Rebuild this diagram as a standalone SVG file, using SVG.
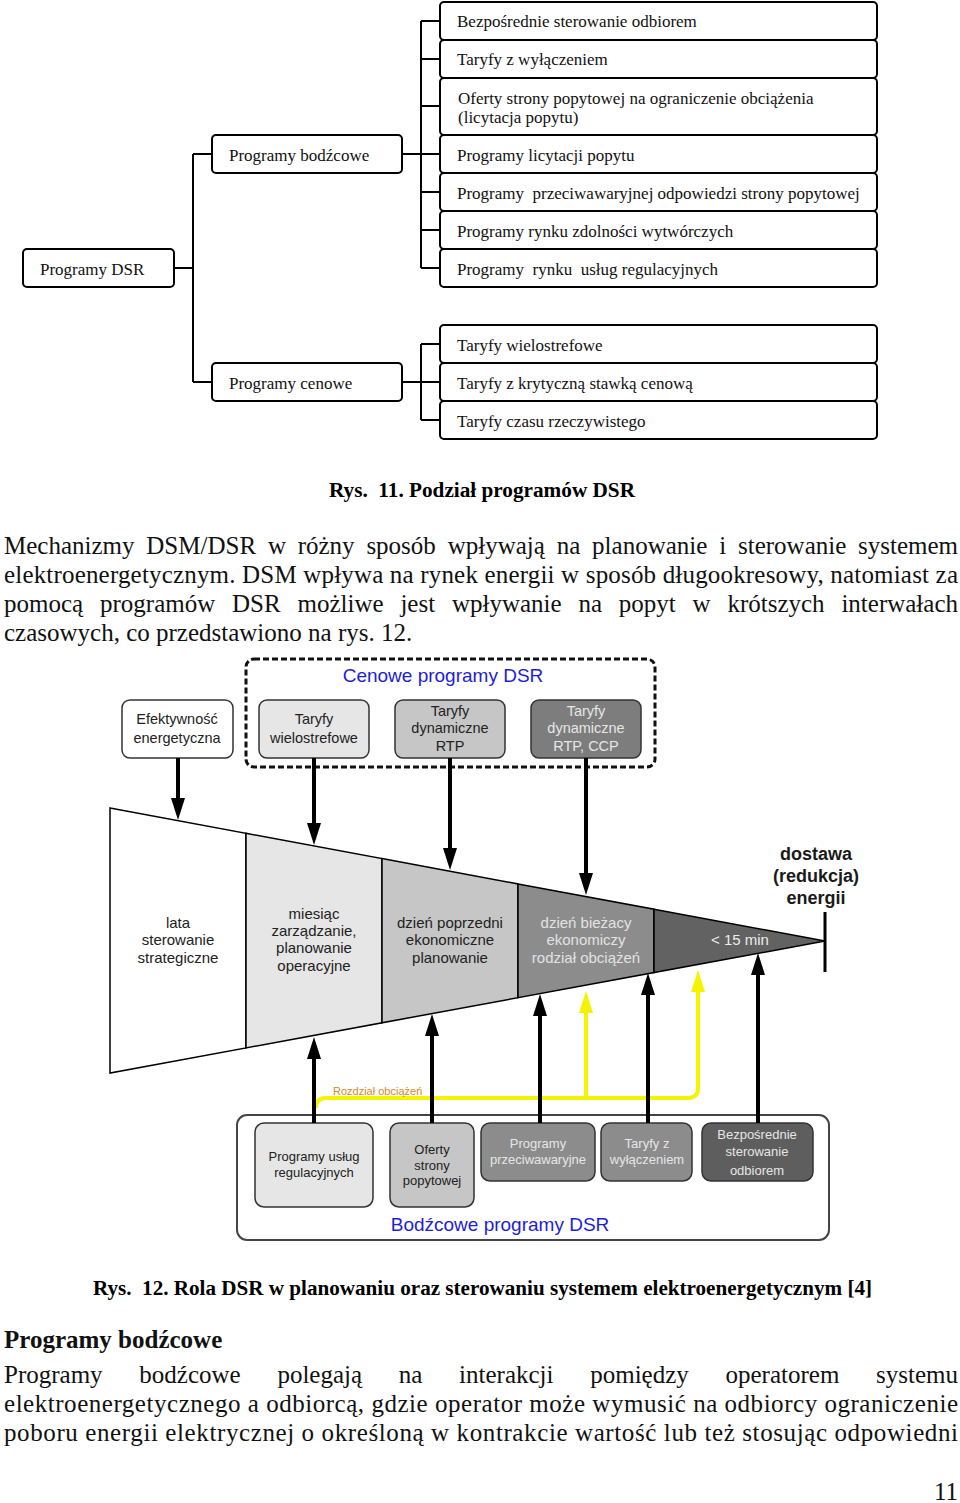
<svg xmlns="http://www.w3.org/2000/svg" width="960" height="1503" viewBox="0 0 960 1503">
<style>
.bg{fill:#fff}
.tb{fill:#fff;stroke:#000;stroke-width:2}
.tl{fill:none;stroke:#000;stroke-width:2}
.tt{font-family:"Liberation Serif","Times New Roman",serif;font-size:17px;fill:#111}
.cap{font-family:"Liberation Serif","Times New Roman",serif;font-size:20px;font-weight:bold;fill:#000}
.par{font-family:"Liberation Serif","Times New Roman",serif;font-size:25px;fill:#111}
.hd{font-family:"Liberation Serif","Times New Roman",serif;font-size:25px;font-weight:bold;fill:#111}
.st{font-family:"Liberation Sans",Arial,sans-serif;text-anchor:middle}
.sb{font-size:14.5px;fill:#222}
.sd{font-size:13px;fill:#222}
.sl{fill:#e6e6e6}
.ct{font-size:15px}
.blue{font-family:"Liberation Sans",Arial,sans-serif;font-size:19px;fill:#1e1ed8;text-anchor:middle}
.rb{stroke:#333;stroke-width:1.5}
.arr{stroke:#000;stroke-width:4;fill:none}
.yarr{stroke:#f4f400;stroke-width:4;fill:none}
.seg{stroke:#000;stroke-width:1.5}
</style>
<defs>
<marker id="ah" viewBox="0 0 22 14" refX="10" refY="7" markerWidth="22" markerHeight="14" markerUnits="userSpaceOnUse" orient="auto"><path d="M0,0 L22,7 L0,14 z" fill="#000"/></marker>
<marker id="yah" viewBox="0 0 22 14" refX="10" refY="7" markerWidth="22" markerHeight="14" markerUnits="userSpaceOnUse" orient="auto"><path d="M0,0 L22,7 L0,14 z" fill="#f4f400"/></marker>
</defs>
<rect class="bg" x="0" y="0" width="960" height="1503"/>

<!-- ===== Figure 11: tree ===== -->
<g id="tree-connectors">
<path class="tl" d="M174,268 H193 M193,154 V382 M193,154 H212 M193,382 H212"/>
<path class="tl" d="M402,154 H421 M421,21 V268 M421,21 H440 M421,59 H440 M421,106 H440 M421,154 H440 M421,192 H440 M421,230 H440 M421,268 H440"/>
<path class="tl" d="M402,382 H421 M421,344 V420 M421,344 H440 M421,382 H440 M421,420 H440"/>
</g>
<g id="n-dsr"><rect class="tb" x="23" y="249" width="151" height="38" rx="4"/><text class="tt" x="40" y="275">Programy DSR</text></g>
<g id="n-bodz"><rect class="tb" x="212" y="135" width="190" height="38" rx="4"/><text class="tt" x="229" y="161">Programy bodźcowe</text></g>
<g id="n-cen"><rect class="tb" x="212" y="363" width="190" height="38" rx="4"/><text class="tt" x="229" y="389">Programy cenowe</text></g>
<g id="n-b1"><rect class="tb" x="440" y="2" width="437" height="38" rx="4"/><text class="tt" x="457" y="27">Bezpośrednie sterowanie odbiorem</text></g>
<g id="n-b2"><rect class="tb" x="440" y="40" width="437" height="38" rx="4"/><text class="tt" x="457" y="65">Taryfy z wyłączeniem</text></g>
<g id="n-b3"><rect class="tb" x="440" y="78" width="437" height="57" rx="4"/><text class="tt" x="458" y="104">Oferty strony popytowej na ograniczenie obciążenia</text><text class="tt" x="458" y="123">(licytacja popytu)</text></g>
<g id="n-b4"><rect class="tb" x="440" y="135" width="437" height="38" rx="4"/><text class="tt" x="457" y="161">Programy licytacji popytu</text></g>
<g id="n-b5"><rect class="tb" x="440" y="173" width="437" height="38" rx="4"/><text class="tt" x="457" y="199" xml:space="preserve">Programy  przeciwawaryjnej odpowiedzi strony popytowej</text></g>
<g id="n-b6"><rect class="tb" x="440" y="211" width="437" height="38" rx="4"/><text class="tt" x="457" y="237">Programy rynku zdolności wytwórczych</text></g>
<g id="n-b7"><rect class="tb" x="440" y="249" width="437" height="38" rx="4"/><text class="tt" x="457" y="275" xml:space="preserve">Programy  rynku  usług regulacyjnych</text></g>
<g id="n-c1"><rect class="tb" x="440" y="325" width="437" height="38" rx="4"/><text class="tt" x="457" y="351">Taryfy wielostrefowe</text></g>
<g id="n-c2"><rect class="tb" x="440" y="363" width="437" height="38" rx="4"/><text class="tt" x="457" y="389">Taryfy z krytyczną stawką cenową</text></g>
<g id="n-c3"><rect class="tb" x="440" y="401" width="437" height="38" rx="4"/><text class="tt" x="457" y="427">Taryfy czasu rzeczywistego</text></g>

<text class="cap" x="329" y="497" textLength="306" lengthAdjust="spacingAndGlyphs" xml:space="preserve">Rys.  11. Podział programów DSR</text>

<!-- paragraph 1 -->
<text class="par" y="554"><tspan x="4">Mechanizmy</tspan><tspan x="146.3">DSM/DSR</tspan><tspan x="267.9">w</tspan><tspan x="297.7">różny</tspan><tspan x="366.4">sposób</tspan><tspan x="447.7">wpływają</tspan><tspan x="556.7">na</tspan><tspan x="592.1">planowanie</tspan><tspan x="719.2">i</tspan><tspan x="738">sterowanie</tspan><tspan x="958" text-anchor="end">systemem</tspan></text>
<text class="par" x="4" y="583" textLength="954" lengthAdjust="spacing">elektroenergetycznym. DSM wpływa na rynek energii w sposób długookresowy, natomiast za</text>
<text class="par" y="612"><tspan x="4">pomocą</tspan><tspan x="100">programów</tspan><tspan x="232">DSR</tspan><tspan x="297.5">możliwe</tspan><tspan x="400.4">jest</tspan><tspan x="451.9">wpływanie</tspan><tspan x="578.4">na</tspan><tspan x="618.8">popyt</tspan><tspan x="692.6">w</tspan><tspan x="727.4">krótszych</tspan><tspan x="958" text-anchor="end">interwałach</tspan></text>
<text class="par" x="4" y="641">czasowych, co przedstawiono na rys. 12.</text>

<!-- ===== Figure 12 ===== -->
<g id="cenowe-group">
<rect x="246" y="659" width="409" height="108" rx="8" fill="none" stroke="#111" stroke-width="3" stroke-dasharray="6 3"/>
<text class="blue" x="443" y="682">Cenowe programy DSR</text>
</g>
<g id="t-efekt"><rect class="rb" x="122" y="700" width="111" height="58" rx="8" fill="#fff"/><text class="st sb" x="177" y="724">Efektywność</text><text class="st sb" x="177" y="743">energetyczna</text></g>
<g id="t-wiel"><rect class="rb" x="259" y="700" width="110" height="58" rx="8" fill="#e6e6e6"/><text class="st sb" x="314" y="724">Taryfy</text><text class="st sb" x="314" y="743">wielostrefowe</text></g>
<g id="t-rtp"><rect class="rb" x="395" y="700" width="110" height="58" rx="8" fill="#c6c6c6"/><text class="st sb" x="450" y="716">Taryfy</text><text class="st sb" x="450" y="733">dynamiczne</text><text class="st sb" x="450" y="751">RTP</text></g>
<g id="t-ccp"><rect class="rb" x="531" y="700" width="110" height="58" rx="8" fill="#7d7d7d"/><text class="st sb sl" x="586" y="716">Taryfy</text><text class="st sb sl" x="586" y="733">dynamiczne</text><text class="st sb sl" x="586" y="751">RTP, CCP</text></g>

<g id="cone">
<polygon class="seg" points="110,808 246,833.3 246,1047.9 110,1073" fill="#fff"/>
<polygon class="seg" points="246,833.3 382,858.6 382,1022.8 246,1047.9" fill="#e6e6e6"/>
<polygon class="seg" points="382,858.6 518,883.9 518,997.7 382,1022.8" fill="#c6c6c6"/>
<polygon class="seg" points="518,883.9 654,909.2 654,972.6 518,997.7" fill="#8c8c8c"/>
<polygon class="seg" points="654,909.2 825,941 654,972.6" fill="#626262"/>
<line x1="825" y1="912" x2="825" y2="972" stroke="#000" stroke-width="3"/>
<text class="st ct" fill="#222" x="178" y="928">lata</text><text class="st ct" fill="#222" x="178" y="945">sterowanie</text><text class="st ct" fill="#222" x="178" y="963">strategiczne</text>
<text class="st ct" fill="#222" x="314" y="919">miesiąc</text><text class="st ct" fill="#222" x="314" y="936">zarządzanie,</text><text class="st ct" fill="#222" x="314" y="953">planowanie</text><text class="st ct" fill="#222" x="314" y="971">operacyjne</text>
<text class="st ct" fill="#222" x="450" y="928">dzień poprzedni</text><text class="st ct" fill="#222" x="450" y="945">ekonomiczne</text><text class="st ct" fill="#222" x="450" y="963">planowanie</text>
<text class="st ct" fill="#e2e2e2" x="586" y="928">dzień bieżacy</text><text class="st ct" fill="#e2e2e2" x="586" y="945">ekonomiczy</text><text class="st ct" fill="#e2e2e2" x="586" y="963">rodział obciążeń</text>
<text class="st ct" fill="#ececec" x="740" y="945">&lt; 15 min</text>
</g>
<g id="delivery-label">
<text class="st" font-size="18" font-weight="bold" fill="#1a1a1a" x="816" y="860">dostawa</text>
<text class="st" font-size="18" font-weight="bold" fill="#1a1a1a" x="816" y="882">(redukcja)</text>
<text class="st" font-size="18" font-weight="bold" fill="#1a1a1a" x="816" y="904">energii</text>
</g>

<g id="bodzcowe-group">
<rect x="237" y="1115" width="592" height="125" rx="10" fill="#fff" stroke="#444" stroke-width="2"/>
<text class="blue" x="500" y="1231">Bodźcowe programy DSR</text>
</g>
<g id="b-reg"><rect class="rb" x="255" y="1123" width="118" height="84" rx="9" fill="#e6e6e6"/><text class="st sd" x="314" y="1161">Programy usług</text><text class="st sd" x="314" y="1177">regulacyjnych</text></g>
<g id="b-ofer"><rect class="rb" x="390" y="1123" width="84" height="84" rx="9" fill="#c6c6c6"/><text class="st sd" x="432" y="1154">Oferty</text><text class="st sd" x="432" y="1170">strony</text><text class="st sd" x="432" y="1185">popytowej</text></g>
<g id="b-prze"><rect class="rb" x="481" y="1123" width="114" height="58" rx="9" fill="#8c8c8c"/><text class="st sd sl" x="538" y="1148">Programy</text><text class="st sd sl" x="538" y="1164">przeciwawaryjne</text></g>
<g id="b-wyl"><rect class="rb" x="601" y="1123" width="91" height="58" rx="9" fill="#8c8c8c"/><text class="st sd sl" x="647" y="1148">Taryfy z</text><text class="st sd sl" x="647" y="1164">wyłączeniem</text></g>
<g id="b-bezp"><rect class="rb" x="702" y="1123" width="111" height="58" rx="9" fill="#5e5e5e"/><text class="st sd sl" x="757" y="1139">Bezpośrednie</text><text class="st sd sl" x="757" y="1156">sterowanie</text><text class="st sd sl" x="757" y="1175">odbiorem</text></g>

<g id="connectors">
<line class="arr" x1="178" y1="758" x2="178" y2="808" marker-end="url(#ah)"/>
<line class="arr" x1="314" y1="758" x2="314" y2="833" marker-end="url(#ah)"/>
<line class="arr" x1="450" y1="758" x2="450" y2="858" marker-end="url(#ah)"/>
<line class="arr" x1="586" y1="758" x2="586" y2="883" marker-end="url(#ah)"/>
<path class="yarr" d="M316,1108 Q316,1098 326,1098 H688 Q698,1098 698,1088 V982" marker-end="url(#yah)"/>
<path class="yarr" d="M586,1098 V1003" marker-end="url(#yah)"/>
<line class="arr" x1="314" y1="1123" x2="314" y2="1049" marker-end="url(#ah)"/>
<line class="arr" x1="432" y1="1123" x2="432" y2="1026" marker-end="url(#ah)"/>
<line class="arr" x1="540" y1="1123" x2="540" y2="1006" marker-end="url(#ah)"/>
<line class="arr" x1="648" y1="1123" x2="648" y2="985" marker-end="url(#ah)"/>
<line class="arr" x1="758" y1="1123" x2="758" y2="965" marker-end="url(#ah)"/>
<text font-family="'Liberation Sans',Arial,sans-serif" font-size="11" fill="#e0861a" x="333" y="1095">Rozdział obciążeń</text>
</g>

<text class="cap" x="93" y="1295" textLength="779" lengthAdjust="spacingAndGlyphs" xml:space="preserve">Rys.  12. Rola DSR w planowaniu oraz sterowaniu systemem elektroenergetycznym [4]</text>
<text class="hd" x="4" y="1348">Programy bodźcowe</text>
<text class="par" y="1383"><tspan x="4">Programy</tspan><tspan x="139.3">bodźcowe</tspan><tspan x="277.4">polegają</tspan><tspan x="398.8">na</tspan><tspan x="459.1">interakcji</tspan><tspan x="590.2">pomiędzy</tspan><tspan x="725.5">operatorem</tspan><tspan x="958" text-anchor="end">systemu</tspan></text>
<text class="par" x="4" y="1412" textLength="954" lengthAdjust="spacing">elektroenergetycznego a odbiorcą, gdzie operator może wymusić na odbiorcy ograniczenie</text>
<text class="par" x="4" y="1441" textLength="954" lengthAdjust="spacing">poboru energii elektrycznej o określoną w kontrakcie wartość lub też stosując odpowiedni</text>
<text class="par" x="958" y="1500" text-anchor="end">11</text>
</svg>
